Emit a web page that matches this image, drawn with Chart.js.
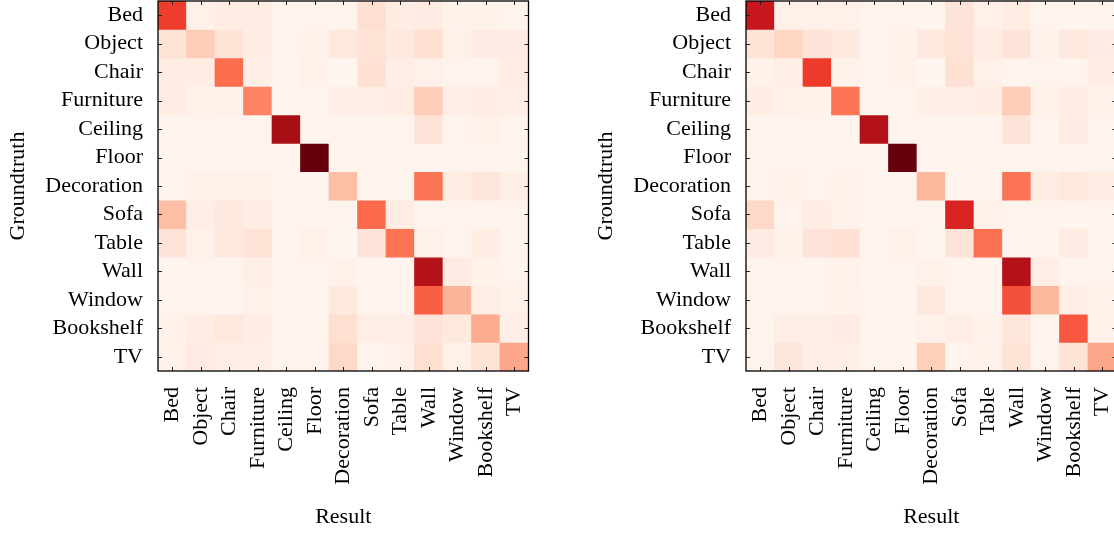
<!DOCTYPE html>
<html>
<head>
<meta charset="utf-8">
<script src="https://cdn.jsdelivr.net/npm/chart.js@4"></script>
<style>
  html, body { margin: 0; padding: 0; background: #fff; overflow: hidden; width: 1114px; height: 535px; }
  .box { position: absolute; top: 0; width: 557px; height: 535px; }
  #boxA { left: 0; }
  #boxB { left: 588px; }
</style>
</head>
<body>
<div class="box" id="boxA"><canvas id="chartA"></canvas></div>
<div class="box" id="boxB"><canvas id="chartB"></canvas></div>
<script>
const categories = ['Bed','Object','Chair','Furniture','Ceiling','Floor','Decoration','Sofa','Table','Wall','Window','Bookshelf','TV'];

// Left confusion matrix (rows = groundtruth, cols = result), normalized 0..1
const matrixA = [
  [0.62, 0.03, 0.05, 0.05, 0.01, 0.01, 0.01, 0.13, 0.05, 0.06, 0.02, 0.02, 0.01],
  [0.11, 0.19, 0.11, 0.05, 0.01, 0.02, 0.08, 0.11, 0.07, 0.13, 0.03, 0.06, 0.06],
  [0.05, 0.05, 0.49, 0.04, 0.01, 0.03, 0.00, 0.12, 0.04, 0.03, 0.01, 0.01, 0.05],
  [0.05, 0.02, 0.03, 0.42, 0.01, 0.01, 0.04, 0.04, 0.05, 0.19, 0.04, 0.05, 0.04],
  [0.01, 0.01, 0.01, 0.01, 0.87, 0.01, 0.01, 0.01, 0.01, 0.10, 0.01, 0.03, 0.01],
  [0.01, 0.01, 0.01, 0.01, 0.01, 1.00, 0.01, 0.01, 0.01, 0.01, 0.01, 0.01, 0.01],
  [0.01, 0.03, 0.03, 0.03, 0.01, 0.01, 0.24, 0.01, 0.01, 0.47, 0.05, 0.09, 0.04],
  [0.24, 0.04, 0.07, 0.05, 0.01, 0.01, 0.01, 0.50, 0.05, 0.01, 0.01, 0.01, 0.01],
  [0.10, 0.03, 0.08, 0.11, 0.01, 0.03, 0.00, 0.10, 0.47, 0.03, 0.01, 0.05, 0.01],
  [0.01, 0.01, 0.01, 0.04, 0.01, 0.01, 0.03, 0.01, 0.01, 0.83, 0.06, 0.02, 0.01],
  [0.01, 0.01, 0.01, 0.03, 0.01, 0.01, 0.07, 0.01, 0.01, 0.53, 0.27, 0.04, 0.03],
  [0.03, 0.05, 0.08, 0.05, 0.01, 0.01, 0.13, 0.04, 0.04, 0.10, 0.07, 0.30, 0.04],
  [0.02, 0.06, 0.04, 0.04, 0.01, 0.01, 0.15, 0.01, 0.03, 0.13, 0.03, 0.11, 0.31]
];

// Right confusion matrix
const matrixB = [
  [0.76, 0.03, 0.03, 0.03, 0.01, 0.01, 0.01, 0.10, 0.03, 0.05, 0.01, 0.01, 0.01],
  [0.11, 0.16, 0.10, 0.07, 0.01, 0.02, 0.07, 0.11, 0.05, 0.10, 0.02, 0.07, 0.06],
  [0.02, 0.04, 0.63, 0.02, 0.01, 0.03, 0.00, 0.12, 0.03, 0.01, 0.01, 0.01, 0.05],
  [0.05, 0.03, 0.02, 0.47, 0.01, 0.01, 0.04, 0.04, 0.05, 0.19, 0.02, 0.05, 0.02],
  [0.01, 0.01, 0.01, 0.01, 0.83, 0.01, 0.01, 0.01, 0.01, 0.10, 0.01, 0.06, 0.01],
  [0.01, 0.01, 0.01, 0.01, 0.01, 1.00, 0.01, 0.01, 0.01, 0.01, 0.01, 0.01, 0.01],
  [0.01, 0.02, 0.01, 0.02, 0.01, 0.01, 0.26, 0.01, 0.01, 0.47, 0.05, 0.08, 0.05],
  [0.15, 0.01, 0.05, 0.02, 0.01, 0.01, 0.01, 0.71, 0.03, 0.01, 0.01, 0.01, 0.01],
  [0.06, 0.02, 0.10, 0.12, 0.01, 0.03, 0.00, 0.10, 0.48, 0.01, 0.01, 0.06, 0.01],
  [0.01, 0.01, 0.01, 0.03, 0.01, 0.01, 0.03, 0.01, 0.01, 0.83, 0.04, 0.01, 0.01],
  [0.01, 0.01, 0.01, 0.02, 0.01, 0.01, 0.08, 0.01, 0.01, 0.57, 0.26, 0.04, 0.02],
  [0.01, 0.04, 0.04, 0.06, 0.01, 0.01, 0.03, 0.04, 0.02, 0.09, 0.01, 0.55, 0.03],
  [0.01, 0.09, 0.04, 0.04, 0.01, 0.01, 0.18, 0.01, 0.02, 0.11, 0.01, 0.11, 0.31]
];

const xTitle = 'Result';
const yTitle = 'Groundtruth';

// matplotlib "Reds" colormap stops
const redsStops = ['#fff5f0','#fee0d2','#fcbba1','#fc9272','#fb6a4a','#ef3b2c','#cb181d','#a50f15','#67000d'];
function hexToRgb(h) { return [parseInt(h.slice(1,3),16), parseInt(h.slice(3,5),16), parseInt(h.slice(5,7),16)]; }
const redsRgb = redsStops.map(hexToRgb);
function reds(v) {
  v = Math.max(0, Math.min(1, v));
  const p = v * (redsRgb.length - 1);
  const i = Math.min(Math.floor(p), redsRgb.length - 2);
  const t = p - i;
  const a = redsRgb[i], b = redsRgb[i + 1];
  const c = a.map((x, k) => Math.round(x + (b[k] - x) * t));
  return `rgb(${c[0]},${c[1]},${c[2]})`;
}

const FONT = { family: '"Liberation Serif", "DejaVu Serif", serif', size: 22 };

const framePlugin = {
  id: 'frame',
  afterDatasetsDraw(chart) {
    const { ctx, chartArea: a, scales: { x, y } } = chart;
    ctx.save();
    ctx.strokeStyle = '#222';
    ctx.lineWidth = 1;
    const L = 4;
    ctx.beginPath();
    categories.forEach((_, i) => {
      const px = Math.round(x.getPixelForValue(i)) + 0.5;
      ctx.moveTo(px, a.top); ctx.lineTo(px, a.top + L);
      ctx.moveTo(px, a.bottom); ctx.lineTo(px, a.bottom - L);
      const py = Math.round(y.getPixelForValue(i)) + 0.5;
      ctx.moveTo(a.left, py); ctx.lineTo(a.left + L, py);
      ctx.moveTo(a.right, py); ctx.lineTo(a.right - L, py);
    });
    ctx.stroke();
    ctx.strokeStyle = '#000';
    ctx.lineWidth = 1.3;
    ctx.strokeRect(a.left, a.top, a.right - a.left, a.bottom - a.top);
    ctx.restore();
  }
};

function makeChart(id, matrix) {
  const datasets = matrix.map((row, r) => ({
    label: categories[r],
    data: row.map(() => [r - 0.5, r + 0.5]),
    backgroundColor: row.map(reds),
    borderWidth: 0,
    grouped: false,
    barPercentage: 1,
    categoryPercentage: 1
  }));
  return new Chart(document.getElementById(id), {
    type: 'bar',
    data: { labels: categories, datasets },
    options: {
      responsive: true,
      maintainAspectRatio: false,
      animation: false,
      layout: { padding: { top: 1, right: 28.5, left: 0, bottom: 0 } },
      plugins: { legend: { display: false }, tooltip: { enabled: false } },
      scales: {
        x: {
          type: 'category',
          offset: true,
          grid: { display: false },
          border: { display: false },
          ticks: { minRotation: 90, maxRotation: 90, autoSkip: false, padding: 8, font: FONT, color: '#000' },
          title: { display: true, text: xTitle, font: FONT, color: '#000', padding: { top: 0, bottom: 5 } },
          afterFit(s) { s.height = 164; s.paddingLeft = 0; s.paddingRight = 0; }
        },
        y: {
          type: 'linear',
          reverse: true,
          min: -0.5,
          max: 12.5,
          afterBuildTicks(s) { s.ticks = categories.map((_, i) => ({ value: i })); },
          grid: { display: false },
          border: { display: false },
          ticks: { autoSkip: false, padding: 7, font: FONT, color: '#000', callback: (v) => categories[v] },
          title: { display: true, text: yTitle, font: FONT, color: '#000', padding: { top: 5, bottom: 0 } },
          afterFit(s) { s.width = 158; s.paddingTop = 0; s.paddingBottom = 0; }
        }
      }
    },
    plugins: [framePlugin]
  });
}

makeChart('chartA', matrixA);
makeChart('chartB', matrixB);
</script>
</body>
</html>
